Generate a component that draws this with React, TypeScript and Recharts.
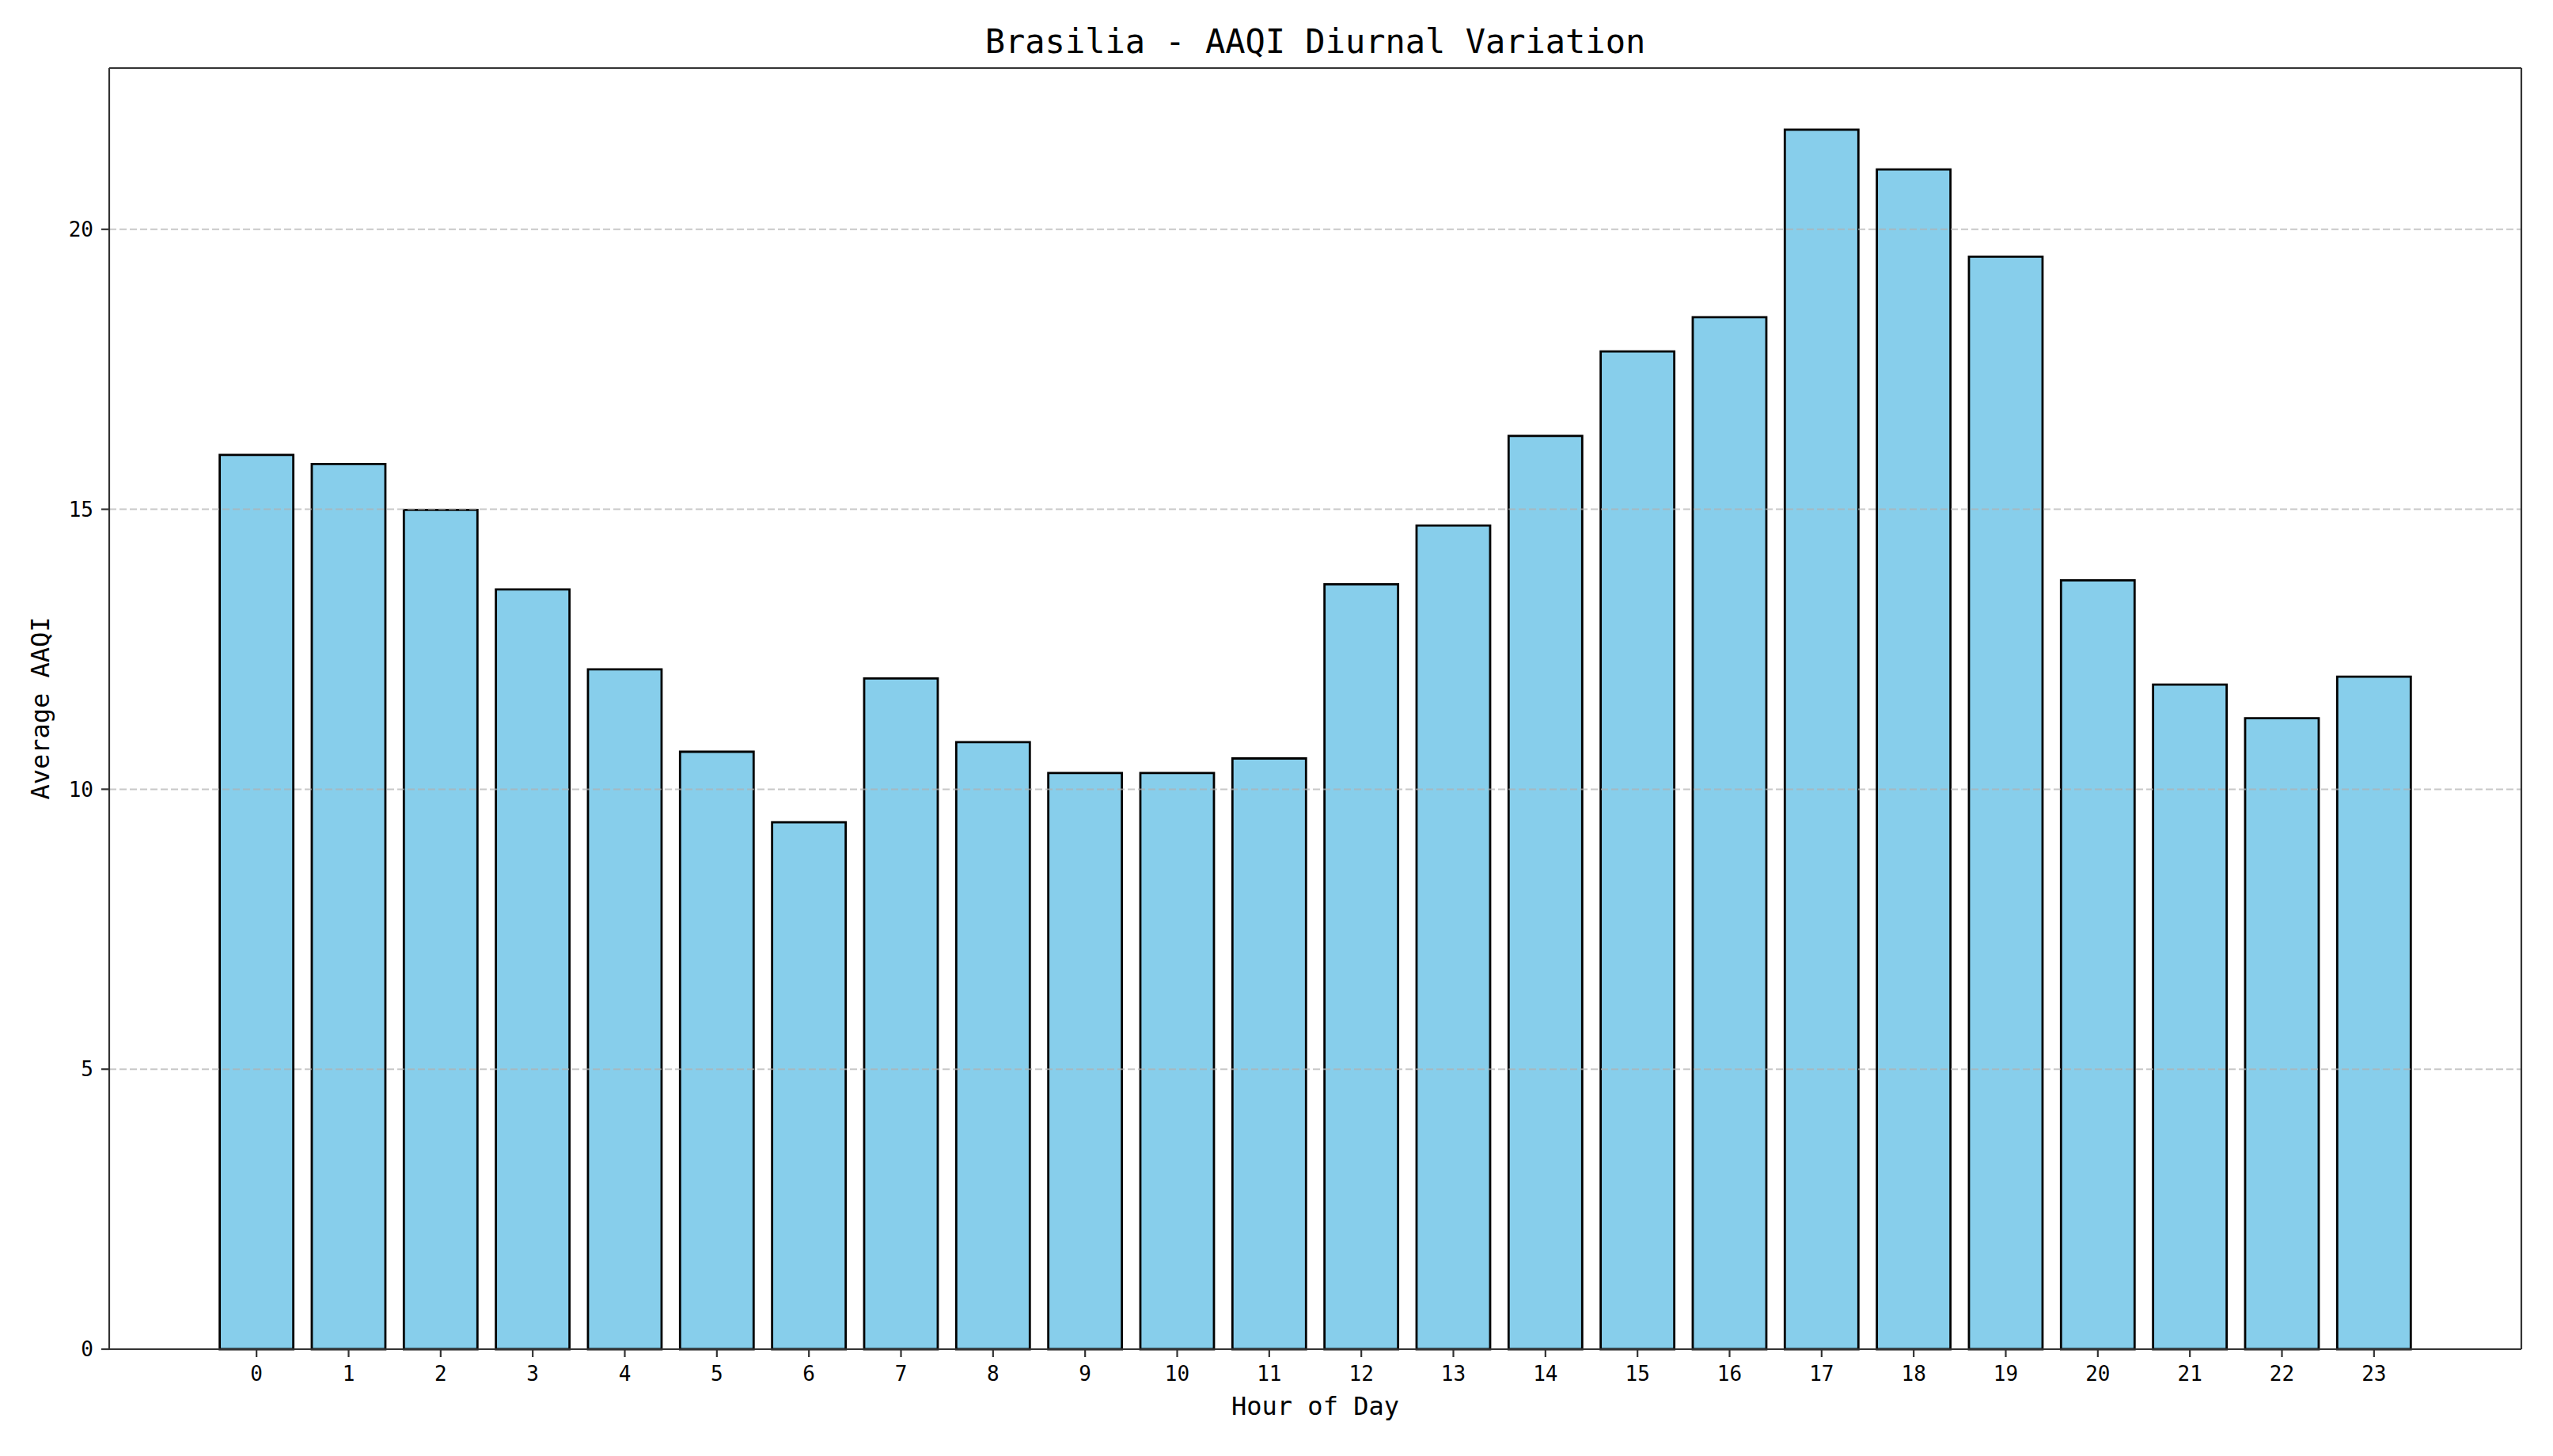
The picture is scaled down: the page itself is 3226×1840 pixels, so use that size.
import React from 'react';
import { BarChart, Bar, XAxis, YAxis, ReferenceLine } from 'recharts';

const hours: string[] = ['0','1','2','3','4','5','6','7','8','9','10','11','12','13','14','15','16','17','18','19','20','21','22','23'];
const avgAqi: number[] = [15.97, 15.81, 14.99, 13.57, 12.14, 10.67, 9.41, 11.98, 10.84, 10.29, 10.29, 10.55, 13.66, 14.71, 16.31, 17.82, 18.43, 21.78, 21.07, 19.51, 13.73, 11.87, 11.27, 12.01];
const yTicks: number[] = [0, 5, 10, 15, 20];
const gridValues: number[] = [5, 10, 15, 20];
const yMax = 22.88;

const title = 'Brasilia - AAQI Diurnal Variation';
const xLabel = 'Hour of Day';
const yLabel = 'Average AAQI';

const data = hours.map((h, i) => ({ hour: h, aqi: avgAqi[i] }));

const FONT = '"DejaVu Sans Mono", monospace';
const W = 3210;
const H = 1832;
const SPINE = { stroke: '#333', strokeWidth: 2.2 };

export default function App() {
  const tickStyle = { fontFamily: FONT, fontSize: 26, fill: '#000' };
  return (
    <div style={{ position: 'relative', width: W, height: H, background: '#fff' }}>
      <div
        style={{
          position: 'absolute',
          left: 0,
          width: 3308,
          top: 24,
          textAlign: 'center',
          fontFamily: FONT,
          fontSize: 42,
          lineHeight: '42px',
          color: '#000',
          whiteSpace: 'nowrap',
        }}
      >
        {title}
      </div>
      <div
        style={{
          position: 'absolute',
          left: 43,
          top: 887,
          transform: 'translate(-50%, -50%) rotate(-90deg)',
          fontFamily: FONT,
          fontSize: 32,
          lineHeight: '32px',
          color: '#000',
          whiteSpace: 'nowrap',
        }}
      >
        {yLabel}
      </div>
      <BarChart
        width={W}
        height={H}
        data={data}
        margin={{ top: 77, right: 31, bottom: 75, left: 0 }}
        barCategoryGap="10%"
      >
        <XAxis
          dataKey="hour"
          type="category"
          interval={0}
          padding={{ left: 128, right: 128 }}
          height={60}
          tickSize={10}
          tickMargin={12}
          tick={tickStyle}
          axisLine={SPINE}
          tickLine={SPINE}
          label={{ value: xLabel, position: 'bottom', offset: 0, style: { fontFamily: FONT, fontSize: 32, fill: '#000' } }}
        />
        <XAxis
          xAxisId="top"
          dataKey="hour"
          orientation="top"
          height={1}
          tick={false}
          tickLine={false}
          axisLine={SPINE}
        />
        <YAxis
          type="number"
          domain={[0, yMax]}
          ticks={yTicks}
          width={130}
          tickSize={10}
          tickMargin={10}
          tick={tickStyle}
          axisLine={SPINE}
          tickLine={SPINE}
        />
        <YAxis
          yAxisId="right"
          orientation="right"
          type="number"
          domain={[0, yMax]}
          width={1}
          tick={false}
          tickLine={false}
          axisLine={SPINE}
        />
        <Bar dataKey="aqi" fill="#87CEEB" stroke="#000" strokeWidth={2.8} isAnimationActive={false} />
        {gridValues.map((v) => (
          <ReferenceLine key={v} y={v} stroke="#b0b0b0" strokeOpacity={0.7} strokeWidth={2} strokeDasharray="9 4" />
        ))}
        <ReferenceLine y={yMax} stroke="#333" strokeWidth={2.2} />
      </BarChart>
    </div>
  );
}
